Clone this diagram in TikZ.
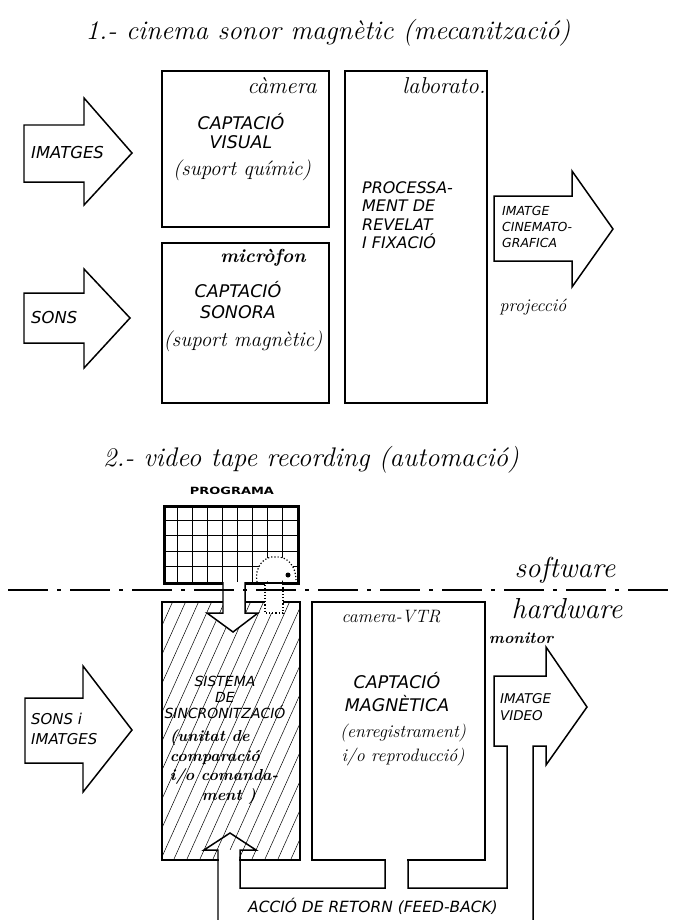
\documentclass[tikz,border=0pt]{standalone}
\usepackage{fontspec}
\usepackage{graphicx}
\usetikzlibrary{calc}
\newfontfamily\capsfont{DejaVu Sans}

\begin{document}
\begin{tikzpicture}[x=1bp, y=-1bp,
  box/.style={draw, line width=1.8pt, inner sep=0pt, anchor=north west},
  hand/.style={font=\itshape\fontsize{#1}{#1}\selectfont, inner sep=0pt},
  handb/.style={font=\bfseries\itshape\fontsize{#1}{#1}\selectfont, inner sep=0pt},
  caps/.style 2 args={font=\capsfont\itshape\fontsize{#1}{#2}\selectfont, inner sep=0pt, align=center},
  blockarrow/.style={draw, line width=1.5pt, fill=white, line join=miter}]
\useasboundingbox (0,0) rectangle (677,920);

% 1 - cinema
\node[hand=27] (title1) at (328,33) {1.- cinema sonor magnètic (mecanització)};
\node[box, minimum width=167bp, minimum height=156bp] (camera) at (161,70) {};
\node[box, minimum width=167bp, minimum height=160bp] (micro) at (161,242) {};
\node[box, minimum width=142bp, minimum height=332bp] (lab) at (344,70) {};
\node[hand=23] (cameralbl) at (282,86) {càmera};
\node[hand=23] (lablbl) at (444,86) {laborato.};
\node[handb=19] (microlbl) at (263,258) {micròfon};
\node[caps={17.5}{20}] (visual) at (241,131) {CAPTACIÓ\\VISUAL};
\node[hand=21] (quimic) at (242,170) {(suport químic)};
\node[caps={17.5}{22}] (sonora) at (238,300) {CAPTACIÓ\\SONORA};
\node[hand=21] (magnetic) at (243,341) {(suport magnètic)};
\node[caps={16}{18.5}, align=left, anchor=west] (process) at (362,215) {PROCESSA-\\MENT DE\\REVELAT\\I FIXACIÓ};

\draw[blockarrow] (24,125) -- (84,125) -- (84,98) -- (132,153) -- (84,205) -- (84,182) -- (24,182) -- cycle;
\node[caps={16.5}{20}, anchor=west] (imatges) at (31,153) {IMATGES};
\draw[blockarrow] (24,293) -- (84,293) -- (84,269) -- (130,318) -- (84,368) -- (84,343) -- (24,343) -- cycle;
\node[caps={16.5}{20}, anchor=west] (sons) at (31,318) {SONS};
\draw[blockarrow] (494,196) -- (572,196) -- (572,171) -- (613,229) -- (572,287) -- (572,261) -- (494,261) -- cycle;
\node[caps={12.5}{16}, align=left, anchor=west] (cine) at (502,227) {IMATGE\\CINEMATO-\\GRAFICA};
\node[hand=18] (proj) at (533,307) {projecció};

% 2 - video tape recording
\node[hand=27] (title2) at (311,460) {2.- video tape recording (automació)};
\node[font=\capsfont\bfseries\fontsize{10}{10}\selectfont, inner sep=0pt] (programa) at (232,491) {\scalebox{1.3}[1]{PROGRAMA}};

% hatched sync unit
\begin{scope}
  \clip (161,601) rectangle (299,859);
  \foreach \c in {-130,-117,...,300}
    \draw[line width=0.5pt] (161+\c,859) -- ++(116,-258);
\end{scope}
\node[box, minimum width=138bp, minimum height=258bp] (sync) at (161,601) {};
\node[box, minimum width=173bp, minimum height=258bp] (vtr) at (311,601) {};

% program grid
\foreach \i in {1,...,8}
  \draw[line width=1pt] ({163+\i*14.89},505) -- ({163+\i*14.89},582);
\foreach \j in {1,...,4}
  \draw[line width=1pt] (163,{505+\j*15.4}) -- (297,{505+\j*15.4});
\fill[white] (257,582) .. controls (254,568) and (264,555) .. (276,557) .. controls (287,556) and (296,566) .. (296,580) -- cycle;
\draw[dotted, line width=1.2pt] (257,582) .. controls (254,568) and (264,555) .. (276,557) .. controls (287,556) and (296,566) .. (296,580);
\fill (288,575) circle (2.5bp);
\node[box, line width=2.6pt, minimum width=134bp, minimum height=77bp] (prog) at (163,505) {};

% program feeds the sync unit
\fill[white] (224,583) rectangle (244,613);
\draw[line width=1pt] (237.9,582) -- (237.9,613) (223,597.4) -- (245,597.4);
\draw[blockarrow] (223,582) -- (223,613) -- (207,613) -- (233,632) -- (258,613) -- (245,613) -- (245,582);
\fill[white] (265,584) rectangle (283,613);
\draw[dotted, line width=1.2pt] (265,582) -- (265,613) -- (283,613) -- (283,582);

% software / hardware
\draw[line width=2.2pt, dash pattern=on 40bp off 9bp on 4bp off 9bp] (8,590) -- (677,590);
\node[hand=29] (soft) at (565,570) {software};
\node[hand=29] (hard) at (567,609) {hardware};

\node[caps={14}{16}] (synclbl) at (225,697) {SISTEMA\\DE\\SINCRONITZACIÓ};
\node[handb=17, align=left, font=\bfseries\itshape\fontsize{16}{19.5}\selectfont] (unitat) at (224,767) {(unitat de\\comparació\\i/o comanda-\\\hspace*{2em}ment )};
\node[hand=18] (vtrlbl) at (391,617) {camera-VTR};
\node[caps={17.5}{23}] (magnet) at (397,692) {CAPTACIÓ\\MAGNÈTICA};
\node[hand=18, align=center, font=\itshape\fontsize{18}{24}\selectfont] (enreg) at (403,745) {(enregistrament)\\i/o reproducció)};

% inputs
\draw[blockarrow] (25,698) -- (83,698) -- (83,666) -- (132,730) -- (83,792) -- (83,763) -- (25,763) -- cycle;
\node[caps={15}{20}, align=left, anchor=west] (sonsimg) at (31,729) {SONS i\\IMATGES};

% feedback loop
\fill[white] (386,857) rectangle (407,861);
\fill[white] (219,850) rectangle (239,862);
\draw[blockarrow, fill=none] (218,920) -- (218,850) -- (204,850) -- (230,833) -- (256,850) -- (240,850) -- (240,888) -- (385,888) -- (385,859);
\draw[blockarrow, fill=none] (408,859) -- (408,888) -- (507,888) -- (507,746) -- (494,746) -- (494,676) -- (546,676) -- (546,647) -- (587,707) -- (546,765) -- (546,746) -- (533,746) -- (533,920);
\node[caps={13.5}{17}, anchor=west, align=left] (videolbl) at (500,707) {IMATGE\\VIDEO};
\node[handb=16] (monitor) at (521,638) {monitor};
\node[caps={15.5}{16}] (feedback) at (373,906) {ACCIÓ DE RETORN (FEED-BACK)};
\end{tikzpicture}
\end{document}
